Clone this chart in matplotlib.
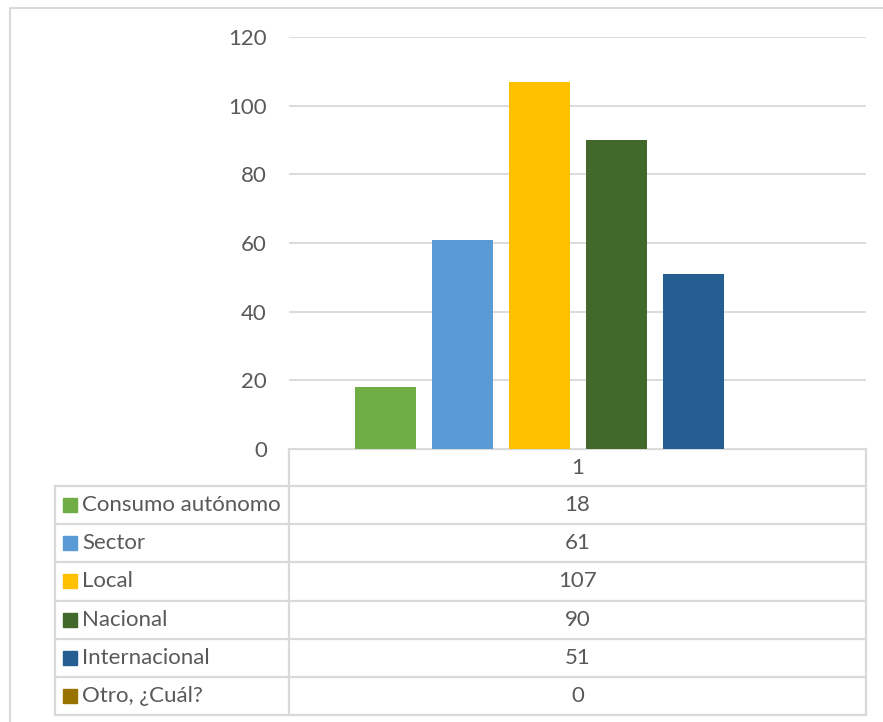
import numpy as np
import matplotlib.pyplot as plt
from matplotlib.patches import Rectangle

# data
series = ["Consumo autónomo", "Sector", "Local", "Nacional", "Internacional", "Otro, ¿Cuál?"]
values = [18, 61, 107, 90, 51, 0]
colors = ["#70ad47", "#5b9bd5", "#ffc000", "#43682b", "#255e91", "#997300"]
category = "1"
yticks = [0, 20, 40, 60, 80, 100, 120]

W, H = 883, 722
grid_c = "#d9d9d9"
text_c = "#595959"
fs = 16
plt.rcParams['font.family'] = ['Lato', 'DejaVu Sans']

fig = plt.figure(figsize=(W / 100, H / 100), dpi=100)

# zona del gráfico (en píxeles)
px_left, px_right, px_top, px_zero = 289, 866, 37, 449
ax = fig.add_axes([px_left / W, 1 - px_zero / H, (px_right - px_left) / W, (px_zero - px_top) / H])

n = len(series)
step = 77 / (px_right - px_left)
width = 61 / (px_right - px_left)
for i, (v, c) in enumerate(zip(values, colors)):
    ax.bar((i - (n - 1) / 2) * step, v, width=width, color=c, zorder=3)

ax.set_xlim(-0.5, 0.5)
ax.set_ylim(0, 120)
ax.set_yticks(yticks)
ax.set_xticks([])
ax.yaxis.grid(True, color=grid_c, linewidth=1.3)
ax.tick_params(axis='y', length=0, pad=16, labelsize=fs, labelcolor=text_c)
for s in ax.spines.values():
    s.set_visible(False)

# capa inferior para la tabla y el marco, en píxeles
ov = fig.add_axes([0, 0, 1, 1], zorder=-1)
ov.set_xlim(0, W)
ov.set_ylim(H, 0)
ov.axis('off')

# marco exterior
ov.plot([10, 10, W + 5], [H + 5, 8, 8], color=grid_c, lw=1.5)

# tabla de datos
tab_left = 55
row_top = 449
row_h = (715 - 486) / n
header_bottom = 486
lw = 1.6
ov.plot([px_left, px_right], [row_top, row_top], color=grid_c, lw=lw)
ov.plot([px_left, px_left], [row_top, 715], color=grid_c, lw=lw)
ov.plot([px_right, px_right], [row_top, 715], color=grid_c, lw=lw)
ov.plot([tab_left, tab_left], [header_bottom, 715], color=grid_c, lw=lw)
ov.plot([tab_left, px_right], [header_bottom, header_bottom], color=grid_c, lw=lw)
ov.text((px_left + px_right) / 2, (row_top + header_bottom) / 2, category,
        ha='center', va='center', fontsize=fs, color=text_c)

for i, (name, v, c) in enumerate(zip(series, values, colors)):
    y0 = header_bottom + i * row_h
    y1 = y0 + row_h
    ov.plot([tab_left, px_right], [y1, y1], color=grid_c, lw=lw)
    yc = (y0 + y1) / 2
    ov.add_patch(Rectangle((63, yc - 7), 14, 14, color=c))
    ov.text(82, yc, name, ha='left', va='center', fontsize=fs, color=text_c)
    ov.text((px_left + px_right) / 2, yc, str(v), ha='center', va='center', fontsize=fs, color=text_c)

fig.savefig("out.png", dpi=100)
